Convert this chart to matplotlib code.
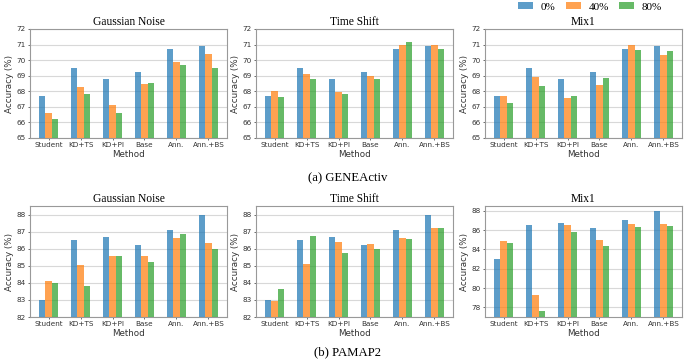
import numpy as np
import matplotlib
matplotlib.use("Agg")
import matplotlib.pyplot as plt

methods = ["Student", "KD+TS", "KD+PI", "Base", "Ann.", "Ann.+BS"]
levels = ["0%", "40%", "80%"]
colors = ["#1f77b4", "#ff7f0e", "#2ca02c"]

# GENEActiv
gene_gauss = [[67.7, 69.5, 68.8, 69.25, 70.7, 70.9],
              [66.6, 68.3, 67.1, 68.45, 69.85, 70.4],
              [66.25, 67.8, 66.6, 68.5, 69.7, 69.5]]
gene_shift = [[67.7, 69.5, 68.8, 69.25, 70.7, 70.9],
              [68.0, 69.1, 67.95, 69.0, 70.95, 71.0],
              [67.65, 68.8, 67.85, 68.8, 71.15, 70.7]]
gene_mix = [[67.7, 69.5, 68.8, 69.25, 70.7, 70.9],
            [67.7, 68.9, 67.6, 68.4, 70.95, 70.35],
            [67.25, 68.35, 67.7, 68.85, 70.65, 70.6]]

# PAMAP2
pam_gauss = [[83.0, 86.5, 86.7, 86.2, 87.1, 88.0],
             [84.1, 85.05, 85.55, 85.55, 86.6, 86.35],
             [84.0, 83.8, 85.6, 85.2, 86.85, 86.0]]
pam_shift = [[83.0, 86.5, 86.7, 86.2, 87.1, 88.0],
             [82.95, 85.1, 86.4, 86.25, 86.65, 87.2],
             [83.65, 86.75, 85.75, 86.0, 86.55, 87.2]]
pam_mix = [[83.0, 86.5, 86.7, 86.2, 87.1, 88.0],
           [84.85, 79.3, 86.55, 85.0, 86.6, 86.6],
           [84.7, 77.6, 85.8, 84.35, 86.3, 86.4]]

serif = ["Liberation Serif", "DejaVu Serif"]

fig = plt.figure(figsize=(6.85, 3.62), dpi=100)

lefts = [30 / 685, 256 / 685, 485 / 685]
w = 197 / 685


def panel(left, bottom, height, data, title, ylim, yticks):
    ax = fig.add_axes([left, bottom, w, height])
    x = np.arange(len(methods))
    bw = 0.2
    for i, vals in enumerate(data):
        ax.bar(x + (i - 1) * bw, vals, bw, color=colors[i], alpha=0.72,
               label=levels[i], zorder=3)
    ax.set_ylim(*ylim)
    ax.set_yticks(yticks)
    ax.set_xticks(x)
    ax.set_xticklabels(methods)
    ax.grid(axis="y", color="#d8d8d8", linewidth=0.8, zorder=0)
    ax.tick_params(labelsize=5.2, length=1.5, width=0.5, pad=1.5, colors="#333333")
    for s in ax.spines.values():
        s.set_color("#999999")
        s.set_linewidth(0.8)
    ax.set_xlabel("Method", fontsize=6.3, labelpad=1, color="#333333")
    ax.set_ylabel("Accuracy (%)", fontsize=6.3, labelpad=2, color="#333333")
    ax.set_title(title, fontsize=8.3, family=serif, pad=3)
    return ax


top_b = 1 - 138 / 362
top_h = 109 / 362
bot_b = 1 - 317 / 362
bot_h = 111 / 362

panel(lefts[0], top_b, top_h, gene_gauss, "Gaussian Noise", (65, 72), range(65, 73))
panel(lefts[1], top_b, top_h, gene_shift, "Time Shift", (65, 72), range(65, 73))
ax_leg = panel(lefts[2], top_b, top_h, gene_mix, "Mix1", (65, 72), range(65, 73))

panel(lefts[0], bot_b, bot_h, pam_gauss, "Gaussian Noise", (82, 88.5), range(82, 89))
panel(lefts[1], bot_b, bot_h, pam_shift, "Time Shift", (82, 88.5), range(82, 89))
panel(lefts[2], bot_b, bot_h, pam_mix, "Mix1", (77, 88.5), range(78, 89, 2))

handles, labels = ax_leg.get_legend_handles_labels()
fig.legend(handles, labels, loc="center", bbox_to_anchor=(590 / 685, 1 - 7 / 362),
           ncol=3, frameon=False, prop={"family": serif, "size": 8},
           handlelength=1.35, handleheight=0.55, columnspacing=0.9,
           handletextpad=0.7, borderpad=0.2)

fig.text(348 / 685, 1 - 178 / 362, "(a) GENEActiv", ha="center", va="center",
         fontsize=9.2, family=serif)
fig.text(348 / 685, 1 - 352 / 362, "(b) PAMAP2", ha="center", va="center",
         fontsize=9.2, family=serif)

fig.savefig("out.png", dpi=100)
